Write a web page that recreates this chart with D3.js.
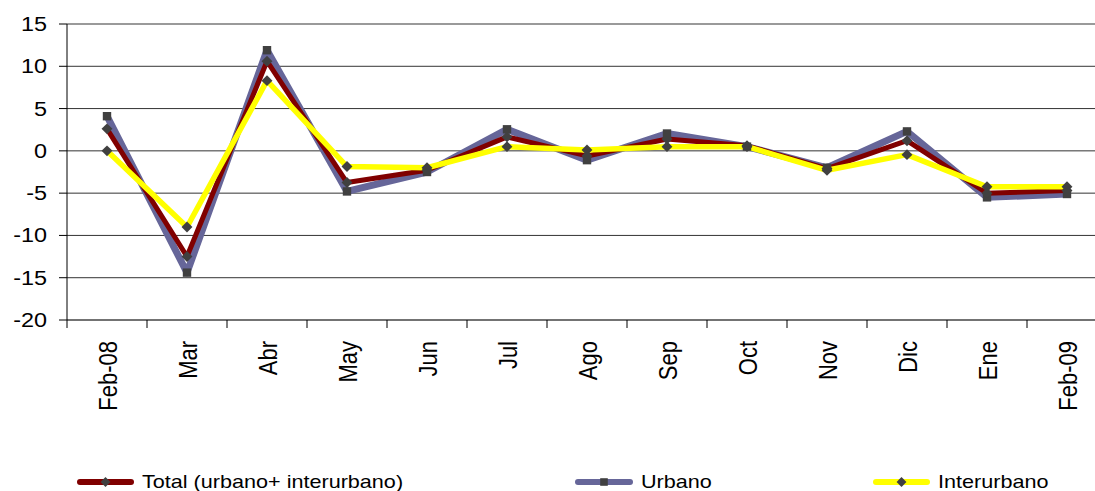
<!DOCTYPE html>
<html>
<head>
<meta charset="utf-8">
<script src="https://cdn.jsdelivr.net/npm/d3@7"></script>
<style>
  html, body { margin: 0; padding: 0; background: #fff; }
  svg { display: block; font-family: "Liberation Sans", Arial, sans-serif; }
</style>
</head>
<body>
<svg id="chart" width="1095" height="491"></svg>
<script>
const categories = ["Feb-08","Mar","Abr","May","Jun","Jul","Ago","Sep","Oct","Nov","Dic","Ene","Feb-09"];
const totalValues = [2.6, -12.5, 10.6, -3.75, -2.3, 1.65, -0.6, 1.4, 0.6, -2.1, 1.2, -5.0, -4.7];
const urbanoValues = [4.1, -14.4, 11.9, -4.8, -2.5, 2.55, -1.1, 2.05, 0.5, -2.0, 2.3, -5.5, -5.1];
const interValues = [0.0, -9.0, 8.3, -1.85, -2.0, 0.5, 0.1, 0.5, 0.5, -2.3, -0.45, -4.25, -4.25];
const yTicks = [-20, -15, -10, -5, 0, 5, 10, 15];
const seriesNames = ["Total (urbano+ interurbano)", "Urbano", "Interurbano"];

(function () {
const svg = d3.select("#chart");
const pLeft = 67, pRight = 1107, pTop = 24, pBottom = 320;

const x = d3.scaleBand().domain(categories).range([pLeft, pRight]);
const y = d3.scaleLinear().domain([-20, 15]).range([pBottom, pTop]);

// gridlines
svg.append("g").selectAll("line").data(yTicks.filter(t => t > -20)).join("line")
  .attr("x1", pLeft).attr("x2", 1095)
  .attr("y1", d => y(d)).attr("y2", d => y(d))
  .attr("stroke", d => d === 15 ? "#9a9a9a" : "#333")
  .attr("stroke-width", d => d === 15 ? 2 : 1);

// bottom axis line
svg.append("line").attr("x1", pLeft).attr("x2", 1095)
  .attr("y1", y(-20)).attr("y2", y(-20))
  .attr("stroke", "#444").attr("stroke-width", 1.5);

// left axis
svg.append("line").attr("x1", pLeft).attr("x2", pLeft)
  .attr("y1", y(15)).attr("y2", y(-20)).attr("stroke", "#000").attr("stroke-width", 1);

// y ticks
svg.append("g").selectAll("line").data(yTicks).join("line")
  .attr("x1", pLeft - 8).attr("x2", pLeft)
  .attr("y1", d => y(d)).attr("y2", d => y(d))
  .attr("stroke", "#000").attr("stroke-width", 1);

svg.append("g").selectAll("text").data(yTicks).join("text")
  .attr("transform", d => `translate(47,${y(d)}) scale(1.2,1)`)
  .attr("text-anchor", "end").attr("dy", "0.36em")
  .attr("font-size", 19.5).attr("fill", "#000")
  .text(d => d);

// x ticks at band boundaries
const bounds = categories.map(c => x(c)).concat([pRight]);
svg.append("g").selectAll("line").data(bounds).join("line")
  .attr("x1", d => d).attr("x2", d => d)
  .attr("y1", pBottom).attr("y2", pBottom + 8)
  .attr("stroke", "#000").attr("stroke-width", 1);

svg.append("g").selectAll("text").data(categories).join("text")
  .attr("transform", d => `translate(${x(d) + x.bandwidth() / 2},341) scale(1.2,1) rotate(-90)`)
  .attr("text-anchor", "end").attr("dy", "0.36em")
  .attr("font-size", 22).attr("fill", "#000")
  .text(d => d);

const series = [
  { name: seriesNames[1], values: urbanoValues, color: "#666699", width: 7, marker: "square" },
  { name: seriesNames[0], values: totalValues, color: "#800000", width: 5, marker: "diamond" },
  { name: seriesNames[2], values: interValues, color: "#ffff00", width: 5.5, marker: "diamond" }
];

const line = d3.line()
  .x((d, i) => x(categories[i]) + x.bandwidth() / 2)
  .y(d => y(d));

series.forEach(s => {
  svg.append("path").datum(s.values)
    .attr("d", line).attr("fill", "none")
    .attr("stroke", s.color).attr("stroke-width", s.width)
    .attr("stroke-linejoin", "round");
});

function markerPath(m, r) {
  if (m === "square") return `M${-r},${-r}H${r}V${r}H${-r}Z`;
  const q = r * 1.3;
  return `M0,${-q}L${q},0L0,${q}L${-q},0Z`;
}

series.forEach(s => {
  svg.append("g").selectAll("path").data(s.values).join("path")
    .attr("transform", (d, i) => `translate(${x(categories[i]) + x.bandwidth() / 2},${y(d)})`)
    .attr("d", markerPath(s.marker, 4.2))
    .attr("fill", "#404040");
});

// legend
const legend = [
  { name: seriesNames[0], color: "#800000", marker: "diamond", x0: 80, x1: 131, tx: 142 },
  { name: seriesNames[1], color: "#666699", marker: "square", x0: 578, x1: 630, tx: 641 },
  { name: seriesNames[2], color: "#ffff00", marker: "diamond", x0: 876, x1: 927, tx: 938 }
];
const ly = 482;
legend.forEach(l => {
  svg.append("line").attr("x1", l.x0).attr("x2", l.x1).attr("y1", ly).attr("y2", ly)
    .attr("stroke", l.color).attr("stroke-width", 6).attr("stroke-linecap", "round");
  svg.append("path").attr("transform", `translate(${(l.x0 + l.x1) / 2},${ly})`)
    .attr("d", markerPath(l.marker, 3.8))
    .attr("fill", "#404040");
  svg.append("text").attr("transform", `translate(${l.tx},${ly}) scale(1.2,1)`)
    .attr("dy", "0.36em").attr("font-size", 18).attr("fill", "#000")
    .text(l.name);
});
})();
</script>
</body>
</html>
